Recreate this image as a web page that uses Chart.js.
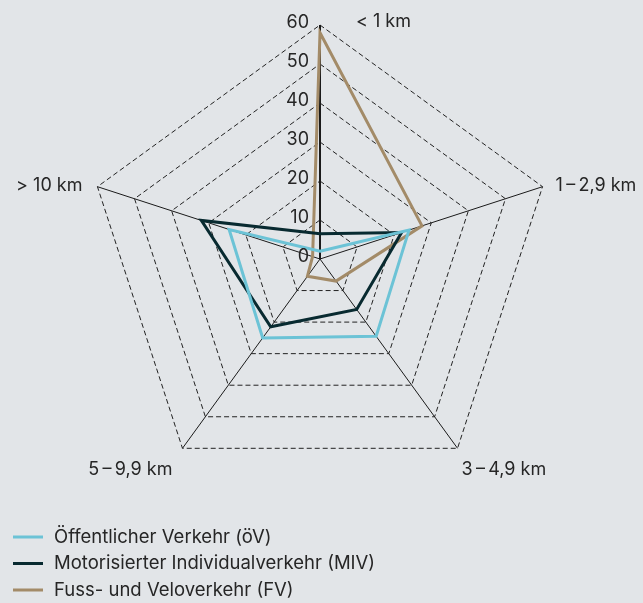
<!DOCTYPE html>
<html>
<head>
<meta charset="utf-8">
<style>
  html, body { margin: 0; padding: 0; background: #e2e5e8; }
  #wrap { width: 643px; height: 603px; }
</style>
</head>
<body>
<div id="wrap"><canvas id="radar" width="643" height="603"></canvas></div>
<script src="https://cdn.jsdelivr.net/npm/chart.js@4.4.0/dist/chart.umd.min.js"></script>
<script>
// distance classes and shares (%) per mode
const categories = ['< 1 km', '1\u2009\u2013\u20092,9 km', '3\u2009\u2013\u20094,9 km', '5\u2009\u2013\u20099,9 km', '> 10 km'];
const oevValues = [2, 24, 24.5, 25, 24.5];
const mivValues = [6.5, 22, 16, 21.5, 32];
const fvValues = [58, 27.5, 7, 5.5, 2];
const tickValues = [0, 10, 20, 30, 40, 50, 60];
const seriesNames = ['Öffentlicher Verkehr (öV)', 'Motorisierter Individualverkehr (MIV)', 'Fuss- und Veloverkehr (FV)'];

const FONT = 'Inter, "Liberation Sans", Arial, sans-serif';
const TEXT = '#262626';

// tick labels left of the vertical axis + the distance labels
const labelsPlugin = {
  id: 'radarLabels',
  afterDraw(chart) {
    const scale = chart.scales.r;
    const ctx = chart.ctx;
    ctx.save();
    ctx.fillStyle = TEXT;
    ctx.font = '18px ' + FONT;
    ctx.textBaseline = 'middle';

    ctx.textAlign = 'right';
    tickValues.forEach(v => {
      const p = scale.getPointPositionForValue(0, v);
      ctx.fillText(String(v), p.x - 11, p.y - 2);
    });

    const offsets = [
      { dx: 36, dy: -3, align: 'left' },
      { dx: 13, dy: -1, align: 'left' },
      { dx: 4, dy: 21, align: 'left' },
      { dx: -10, dy: 21, align: 'right' },
      { dx: -15, dy: -1, align: 'right' }
    ];
    categories.forEach((c, i) => {
      const p = scale.getPointPosition(i, scale.drawingArea);
      ctx.textAlign = offsets[i].align;
      ctx.fillText(c, p.x + offsets[i].dx, p.y + offsets[i].dy);
    });
    ctx.restore();
  }
};

// legend stacked one per row, bottom left
const legendPlugin = {
  id: 'stackedLegend',
  afterDraw(chart) {
    const ctx = chart.ctx;
    ctx.save();
    ctx.font = '18.5px ' + FONT;
    ctx.textBaseline = 'middle';
    ctx.textAlign = 'left';
    chart.data.datasets.forEach((ds, i) => {
      const y = 537 + i * 26.5;
      ctx.strokeStyle = ds.borderColor;
      ctx.lineWidth = 3;
      ctx.beginPath();
      ctx.moveTo(13, y);
      ctx.lineTo(43, y);
      ctx.stroke();
      ctx.fillStyle = TEXT;
      ctx.fillText(ds.label, 54, y);
    });
    ctx.restore();
  }
};

new Chart(document.getElementById('radar'), {
  type: 'radar',
  data: {
    labels: categories,
    datasets: [
      { label: seriesNames[0], data: oevValues, borderColor: '#6cc3d6' },
      { label: seriesNames[1], data: mivValues, borderColor: '#082a30' },
      { label: seriesNames[2], data: fvValues, borderColor: '#a38b68' }
    ]
  },
  options: {
    responsive: false,
    animation: false,
    layout: { padding: { left: 86, right: 89, top: 25, bottom: 110 } },
    elements: {
      line: { borderWidth: 3, fill: false, tension: 0, borderJoinStyle: 'miter' },
      point: { radius: 0, hoverRadius: 0 }
    },
    scales: {
      r: {
        min: 0,
        max: 60,
        ticks: { display: false, stepSize: 10 },
        pointLabels: { display: false },
        grid: { color: '#222', lineWidth: 1 },
        border: { dash: [5, 3] },
        angleLines: { color: '#1a1a1a', lineWidth: ctx => ctx.index === 0 ? 2 : 1 }
      }
    },
    plugins: {
      legend: { display: false },
      tooltip: { enabled: false }
    }
  },
  plugins: [labelsPlugin, legendPlugin]
});
</script>
</body>
</html>
